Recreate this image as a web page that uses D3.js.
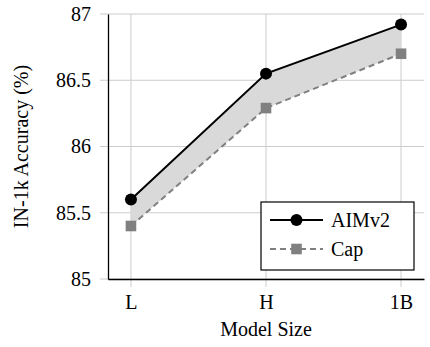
<!DOCTYPE html>
<html>
<head>
<meta charset="utf-8">
<script src="https://cdn.jsdelivr.net/npm/d3@7"></script>
<style>
  body { margin: 0; background: #fff; }
</style>
</head>
<body>
<div id="chart"></div>
<script>
// datos
var sizes = ["L", "H", "1B"]
var aimv2 = [85.6, 86.55, 86.92]
var cap = [85.4, 86.29, 86.7]
var yTicks = [85, 85.5, 86, 86.5, 87]

var fuente = "Liberation Serif, DejaVu Serif, serif"

var width = 430
var height = 347
var margin = { top: 14, right: 6, bottom: 68, left: 108 }

var svg = d3.select("#chart").append("svg")
    .attr("width", width)
    .attr("height", height)
    .attr("font-family", fuente)

var x = d3.scalePoint()
    .domain(sizes)
    .range([margin.left, width - margin.right])
    .padding(0.17)

var y = d3.scaleLinear()
    .domain([85, 87])
    .range([height - margin.bottom, margin.top])

// rejilla
svg.append("g")
    .selectAll("line")
    .data(yTicks)
    .join("line")
    .attr("x1", margin.left - 8)
    .attr("x2", width - margin.right)
    .attr("y1", d => y(d))
    .attr("y2", d => y(d))
    .attr("stroke", "#cccccc")
    .attr("stroke-width", 1)

svg.append("g")
    .selectAll("line")
    .data(sizes)
    .join("line")
    .attr("x1", d => x(d))
    .attr("x2", d => x(d))
    .attr("y1", margin.top)
    .attr("y2", height - margin.bottom + 8)
    .attr("stroke", "#cccccc")
    .attr("stroke-width", 1)

// area entre las dos series
var area = d3.area()
    .x((d, i) => x(sizes[i]))
    .y0((d, i) => y(cap[i]))
    .y1(d => y(d))

svg.append("path")
    .datum(aimv2)
    .attr("fill", "#d9d9d9")
    .attr("d", area)

// ejes
var yAxis = g => g
    .attr("transform", `translate(${margin.left},0)`)
    .call(d3.axisLeft(y).tickValues(yTicks).tickFormat(d => d).tickSize(0).tickPadding(17))
    .attr("font-family", fuente)
    .call(g => g.select(".domain").attr("stroke", "#000").attr("stroke-width", 1.3))
    .call(g => g.selectAll("text").attr("font-size", 20).attr("fill", "#000"))

var xAxis = g => g
    .attr("transform", `translate(0,${height - margin.bottom})`)
    .call(d3.axisBottom(x).tickSize(0).tickPadding(16))
    .attr("font-family", fuente)
    .call(g => g.select(".domain").attr("stroke", "#000").attr("stroke-width", 1.3))
    .call(g => g.selectAll("text").attr("font-size", 20).attr("fill", "#000"))

svg.append("g").call(yAxis)
svg.append("g").call(xAxis)

// series
var line = d3.line()
    .x((d, i) => x(sizes[i]))
    .y(d => y(d))

svg.append("path")
    .datum(cap)
    .attr("fill", "none")
    .attr("stroke", "#808080")
    .attr("stroke-width", 2)
    .attr("stroke-dasharray", "6,4")
    .attr("d", line)

svg.append("g")
    .selectAll("rect")
    .data(cap)
    .join("rect")
    .attr("x", (d, i) => x(sizes[i]) - 5.3)
    .attr("y", d => y(d) - 5.3)
    .attr("width", 10.6)
    .attr("height", 10.6)
    .attr("fill", "#808080")

svg.append("path")
    .datum(aimv2)
    .attr("fill", "none")
    .attr("stroke", "#000")
    .attr("stroke-width", 2)
    .attr("d", line)

svg.append("g")
    .selectAll("circle")
    .data(aimv2)
    .join("circle")
    .attr("cx", (d, i) => x(sizes[i]))
    .attr("cy", d => y(d))
    .attr("r", 6)
    .attr("fill", "#000")

// titulos de ejes
svg.append("text")
    .attr("x", (margin.left + width - margin.right) / 2)
    .attr("y", 336)
    .attr("text-anchor", "middle")
    .attr("font-size", 20)
    .text("Model Size")

svg.append("text")
    .attr("transform", `translate(28,${(margin.top + height - margin.bottom) / 2}) rotate(-90)`)
    .attr("text-anchor", "middle")
    .attr("font-size", 20)
    .text("IN-1k Accuracy (%)")

// leyenda
var legend = svg.append("g").attr("transform", "translate(261,202)")
legend.append("rect")
    .attr("width", 153)
    .attr("height", 68)
    .attr("fill", "#fff")
    .attr("stroke", "#000")
    .attr("stroke-width", 1.2)

legend.append("line")
    .attr("x1", 9).attr("x2", 62).attr("y1", 18).attr("y2", 18)
    .attr("stroke", "#000").attr("stroke-width", 2)
legend.append("circle")
    .attr("cx", 35.5).attr("cy", 18).attr("r", 6).attr("fill", "#000")
legend.append("text")
    .attr("x", 70).attr("y", 25).attr("font-size", 20).text("AIMv2")

legend.append("line")
    .attr("x1", 9).attr("x2", 62).attr("y1", 47).attr("y2", 47)
    .attr("stroke", "#808080").attr("stroke-width", 2).attr("stroke-dasharray", "6,4")
legend.append("rect")
    .attr("x", 30.2).attr("y", 41.7).attr("width", 10.6).attr("height", 10.6).attr("fill", "#808080")
legend.append("text")
    .attr("x", 70).attr("y", 54).attr("font-size", 20).text("Cap")
</script>
</body>
</html>
